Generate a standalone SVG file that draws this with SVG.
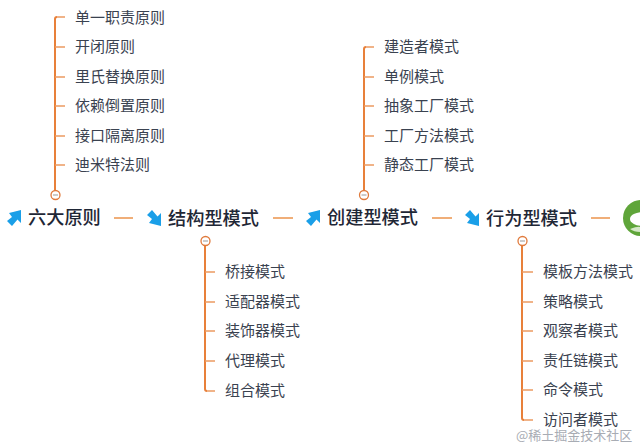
<svg xmlns="http://www.w3.org/2000/svg" width="640" height="444" viewBox="0 0 640 444">
<style>
text{font-family:"Noto Sans CJK SC","Liberation Sans",sans-serif}
.l{font-size:15px;fill:#3a4250}
.m{font-size:18.2px;font-weight:500;fill:#1f2736}
.t{fill:none;stroke:#e8803a;stroke-width:2}
.b{fill:none;stroke:#eb9a62;stroke-width:1.3}
.c{fill:none;stroke:#f0ae78;stroke-width:2}
.o{fill:#fff;stroke:#e07a3c;stroke-width:1.3}
.d{stroke:#999;stroke-width:1}
.a{fill:#1a9fe8}
</style>
<defs>
<path id="ne" d="M-7 3L-2 -1L-5 -5L7 -8L7 5L3.500 1.500L-2 8Z"/>
<path id="se" d="M-7 -3L-2 1L-5 5L7 8L7 -5L3.500 -1.500L-2 -8Z"/>
</defs>
<g id="connectors">
<path class="t" d="M55 190V19Q55 17 57 17"/>
<path class="b" d="M57 17H65M55 47H65M55 77H65M55 106H65M55 136H65M55 165H65"/>
<path class="t" d="M205 246V389Q205 391 207 391"/>
<path class="b" d="M207 391H215M205 272H215M205 302H215M205 331H215M205 361H215"/>
<path class="t" d="M364 190V49Q364 47 366 47"/>
<path class="b" d="M366 47H374M364 77H374M364 106H374M364 136H374M364 165H374"/>
<path class="t" d="M522 246V418Q522 420 524 420"/>
<path class="b" d="M524 420H533M522 272H533M522 302H533M522 331H533M522 361H533M522 390H533"/>
<path class="c" d="M114 218H133M273 218H293M432 218H452M591 218H610"/>
</g>
<g id="n-sixprinciples"><use href="#ne" class="a" x="14" y="218"/><text class="m" x="28" y="224">六大原则</text><circle class="o" cx="55.500" cy="195" r="4.500"/><path class="d" d="M53 195H58"/></g>
<g id="n-structural"><use href="#se" class="a" x="154" y="218"/><text class="m" x="168" y="225">结构型模式</text><circle class="o" cx="205.500" cy="241" r="4.500"/><path class="d" d="M203 241H208"/></g>
<g id="n-creational"><use href="#ne" class="a" x="313" y="218"/><text class="m" x="327" y="224">创建型模式</text><circle class="o" cx="364" cy="195" r="4.500"/><path class="d" d="M361.500 195H366.500"/></g>
<g id="n-behavioral"><use href="#se" class="a" x="472" y="218"/><text class="m" x="486" y="225">行为型模式</text><circle class="o" cx="522.500" cy="241" r="4.500"/><path class="d" d="M520 241H525"/></g>
<g id="n-logo"><circle cx="641" cy="218" r="18" fill="#5fa53a"/><ellipse cx="643" cy="219" rx="13" ry="7" fill="#fff"/><path d="M630 229Q638 226 640 227V232Q634 232 630 229Z" fill="#d5e8c8"/></g>
<g id="p1"><text class="l" x="75" y="23">单一职责原则</text></g>
<g id="p2"><text class="l" x="75" y="52">开闭原则</text></g>
<g id="p3"><text class="l" x="75" y="82">里氏替换原则</text></g>
<g id="p4"><text class="l" x="75" y="111">依赖倒置原则</text></g>
<g id="p5"><text class="l" x="75" y="141">接口隔离原则</text></g>
<g id="p6"><text class="l" x="75" y="170">迪米特法则</text></g>
<g id="s1"><text class="l" x="225" y="277">桥接模式</text></g>
<g id="s2"><text class="l" x="225" y="307">适配器模式</text></g>
<g id="s3"><text class="l" x="225" y="336">装饰器模式</text></g>
<g id="s4"><text class="l" x="225" y="366">代理模式</text></g>
<g id="s5"><text class="l" x="225" y="396">组合模式</text></g>
<g id="c1"><text class="l" x="384" y="52">建造者模式</text></g>
<g id="c2"><text class="l" x="384" y="82">单例模式</text></g>
<g id="c3"><text class="l" x="384" y="111">抽象工厂模式</text></g>
<g id="c4"><text class="l" x="384" y="141">工厂方法模式</text></g>
<g id="c5"><text class="l" x="384" y="170">静态工厂模式</text></g>
<g id="b1"><text class="l" x="543" y="277">模板方法模式</text></g>
<g id="b2"><text class="l" x="543" y="307">策略模式</text></g>
<g id="b3"><text class="l" x="543" y="336">观察者模式</text></g>
<g id="b4"><text class="l" x="543" y="366">责任链模式</text></g>
<g id="b5"><text class="l" x="543" y="395">命令模式</text></g>
<g id="b6"><text class="l" x="543" y="425">访问者模式</text></g>
<text x="516" y="440" font-size="13" fill="#a8acb4">@稀土掘金技术社区</text>
</svg>
